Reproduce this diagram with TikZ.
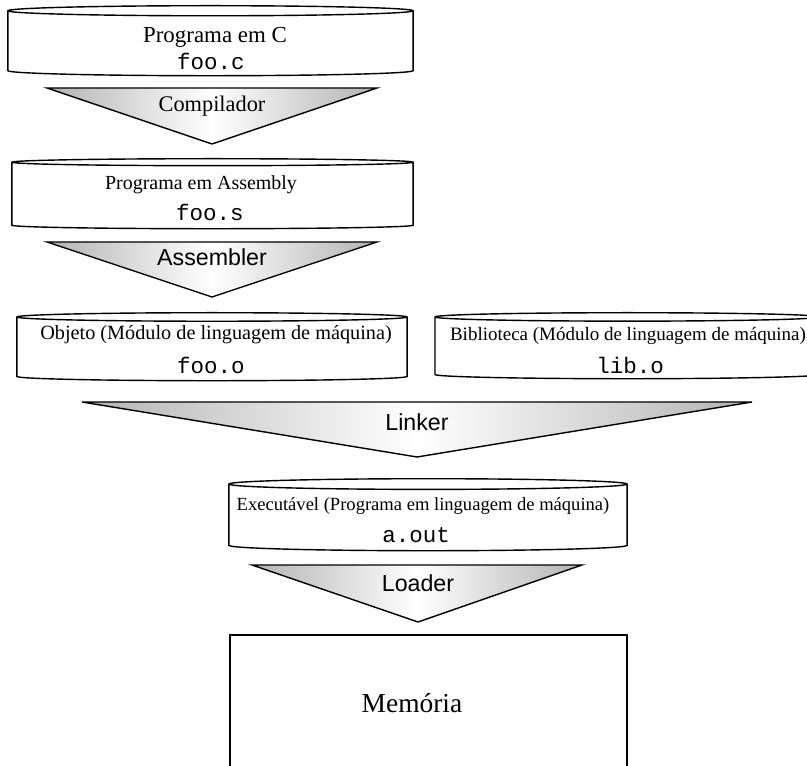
\documentclass[tikz,border=0pt]{standalone}
\usepackage{fontspec}
\setmainfont{Liberation Serif}
\setsansfont{Liberation Sans}
\setmonofont{Liberation Mono}
\usetikzlibrary{shapes.geometric}

\begin{document}
\begin{tikzpicture}[x=0.025cm, y=-0.025cm,
      cyl/.style={cylinder, shape border rotate=90, draw, line width=1pt,
                  inner sep=0pt, anchor=north, fill=white},
      funnel/.style={draw, line width=1pt, left color=gray!60,
                     right color=gray!60, middle color=white},
      lbl/.style={inner sep=0pt},
      fname/.style={lbl, font=\ttfamily\fontsize{16}{18}\selectfont},
      tool/.style={lbl, font=\sffamily\fontsize{16.5}{18}\selectfont}
    ]
    \path[clip] (0,0) rectangle (807,766);

    % Source and compiler
    \node[cyl, aspect=0.025, minimum width=10.125cm, minimum height=1.75cm] (src) at (210.5,5) {\hspace*{10.1cm}};
    \node[lbl, font=\fontsize{16.3}{18}\selectfont] (srctxt) at (215,37) {Programa em C};
    \node[fname] (srcfile) at (211,61) {foo.c};
    \draw[funnel] (47,88) -- (377,88) -- (212,144) -- cycle;
    \node[lbl, font=\fontsize{15.9}{18}\selectfont] (comp) at (212,106) {Compilador};

    % Assembly and assembler
    \node[cyl, aspect=0.0175, minimum width=10.025cm, minimum height=1.75cm] (asm) at (212.5,158) {\hspace*{10cm}};
    \node[lbl, font=\fontsize{14.2}{16}\selectfont] (asmtxt) at (201,185) {Programa em Assembly};
    \node[fname] (asmfile) at (210,212) {foo.s};
    \draw[funnel] (47,242) -- (377,242) -- (212,297) -- cycle;
    \node[tool] (as) at (212,257) {Assembler};

    % Objects and linker
    \node[cyl, aspect=0.022, minimum width=9.75cm, minimum height=1.7cm] (obj) at (212,312) {\hspace*{9.7cm}};
    \node[lbl, font=\fontsize{14.4}{16}\selectfont] (objtxt) at (216,335) {Objeto (Módulo de linguagem de máquina)};
    \node[fname] (objfile) at (211,365) {foo.o};
    \node[cyl, aspect=0.022, minimum width=9.625cm, minimum height=1.65cm] (lib) at (627.5,312) {\hspace*{9.6cm}};
    \node[lbl, font=\fontsize{13.5}{16}\selectfont] (libtxt) at (628,336) {Biblioteca (Módulo de linguagem de máquina)};
    \node[fname] (libfile) at (630,365) {lib.o};
    \draw[funnel] (82,402) -- (752,402) -- (417,457) -- cycle;
    \node[tool] (link) at (417,422) {Linker};

    % Executable and loader
    \node[cyl, aspect=0.027, minimum width=9.95cm, minimum height=1.8cm] (exe) at (428,478) {\hspace*{9.9cm}};
    \node[lbl, font=\fontsize{13.2}{16}\selectfont] (exetxt) at (423,506) {Executável (Programa em linguagem de máquina)};
    \node[fname] (exefile) at (416,535) {a.out};
    \draw[funnel] (252,565) -- (582,565) -- (418,622) -- cycle;
    \node[tool] (load) at (418,583) {Loader};

    % Memory
    \node[draw, line width=1pt, minimum width=9.925cm, minimum height=3.4cm] (mem) at (428.5,703) {};
    \node[lbl, font=\fontsize{19.5}{22}\selectfont] (memtxt) at (412,703) {Memória};
  \end{tikzpicture}
\end{document}
